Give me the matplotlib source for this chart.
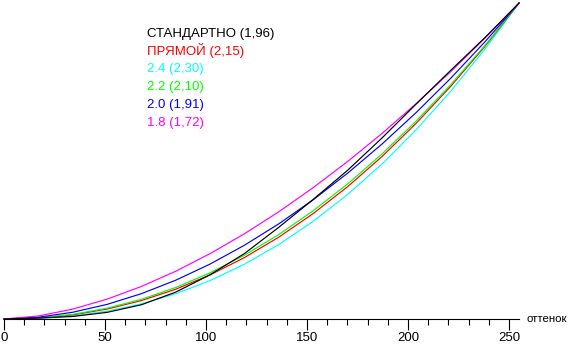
import matplotlib
matplotlib.use("Agg")
import matplotlib.pyplot as plt

plt.rcParams['font.family'] = ['Liberation Sans', 'DejaVu Sans']

# Input level (0..255) sample points
levels = [0, 17, 34, 51, 68, 85, 102, 119, 136, 153, 170, 187, 204, 221, 238, 255]

# Normalised output brightness
standard = [0.0, 0.003, 0.008, 0.021, 0.045, 0.085, 0.140, 0.207, 0.290, 0.378, 0.470,
            0.572, 0.680, 0.786, 0.890, 1.0]
direct = [0.0, 0.0030, 0.0131, 0.0314, 0.0583, 0.0942, 0.1395, 0.1943, 0.2589, 0.3335,
          0.4182, 0.5133, 0.6190, 0.7352, 0.8621, 1.0]
g24 = [0.0, 0.0020, 0.0097, 0.0247, 0.0478, 0.0799, 0.1215, 0.1733, 0.2356, 0.3089,
       0.3935, 0.4899, 0.5986, 0.7196, 0.8533, 1.0]
g22 = [0.0, 0.0034, 0.0145, 0.0341, 0.0623, 0.0996, 0.1460, 0.2018, 0.2671, 0.3421,
       0.4267, 0.5213, 0.6259, 0.7405, 0.8651, 1.0]
g20 = [0.0, 0.0057, 0.0213, 0.0462, 0.0801, 0.1227, 0.1738, 0.2333, 0.3010, 0.3770,
       0.4609, 0.5529, 0.6531, 0.7609, 0.8765, 1.0]
g18 = [0.0, 0.0095, 0.0313, 0.0628, 0.1030, 0.1511, 0.2068, 0.2696, 0.3392, 0.4154,
       0.4978, 0.5865, 0.6813, 0.7818, 0.8881, 1.0]

labels = ["СТАНДАРТНО (1,96)", "ПРЯМОЙ (2,15)", "2.4 (2,30)", "2.2 (2,10)",
          "2.0 (1,91)", "1.8 (1,72)"]
colors = ["#000000", "#ff0000", "#00ffff", "#00ff00", "#0000ff", "#ff00ff"]
series = [standard, direct, g24, g22, g20, g18]
x_label = "оттенок"

fig = plt.figure(figsize=(5.7, 3.45), dpi=100)
ax = fig.add_axes([0, 0, 1, 1])
ax.set_xlim(-4 / 2.02, 566 / 2.02)
ax.set_ylim(-26 / 316, 319 / 316)

# drawing order: cyan, red, green, blue, magenta, black
order = [2, 1, 3, 4, 5, 0]
for i in order:
    ax.plot(levels, series[i], color=colors[i], lw=0.85, antialiased=True)

for spine in ['left', 'right', 'top']:
    ax.spines[spine].set_visible(False)
ax.spines['bottom'].set_position(('data', 0))
ax.spines['bottom'].set_bounds(0, 255)
ax.spines['bottom'].set_linewidth(0.8)
ax.set_yticks([])
ax.set_xticks([0, 50, 100, 150, 200, 250])
ax.set_xticks([v for v in range(0, 251, 10) if v % 50], minor=True)
ax.tick_params(axis='x', which='major', length=8, width=0.8, pad=1.5,
               labelsize=9.5, direction='out')
ax.tick_params(axis='x', which='minor', length=4.3, width=0.8, direction='out')

ax.text(258.5, 0.0, x_label, ha='left', va='center', fontsize=8.2, color='black')

# legend text block
y_pix = [34.5, 50.3, 68.8, 87.0, 104.7, 123.3]
for lab, col, yp in zip(labels, colors, y_pix):
    ax.text(147 / 2.02 - 2, (319 - yp) / 316, lab, color=col, fontsize=9.5,
            ha='left', va='center')

fig.savefig("out.png", dpi=100)
